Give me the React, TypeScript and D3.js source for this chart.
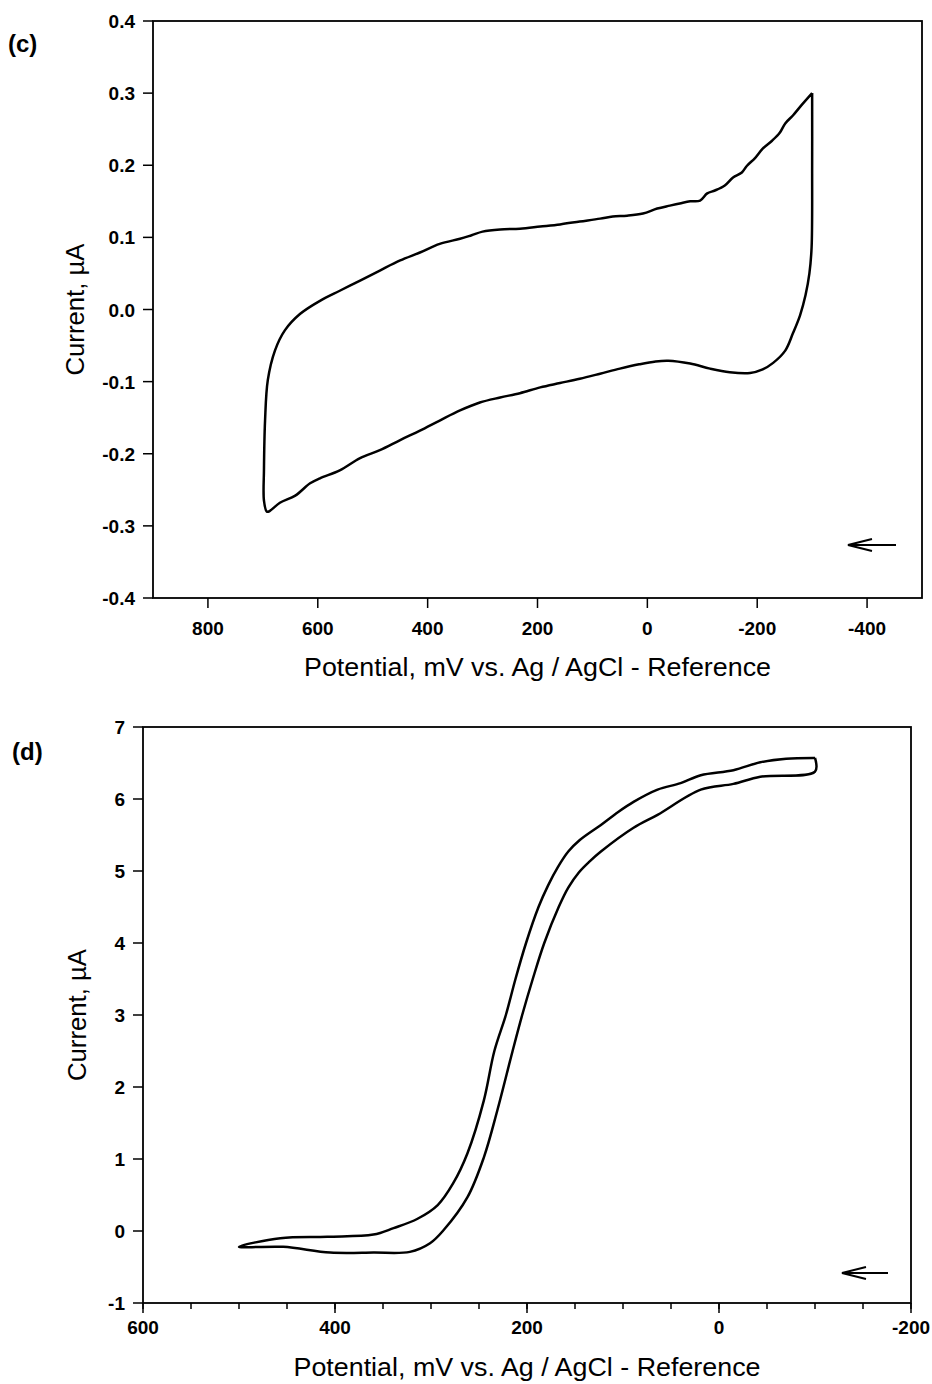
import React from 'react';
import * as d3 from 'd3';

// panel (c) - cyclic voltammogram, potential in mV, current in uA
const cPotential = [
  -300, -278, -265, -251, -241, -227, -210, -196, -181, -172, -156, -141, -123, -109, -96, -78, -59, -41, -18, 8, 37, 63,
  86, 123, 159, 195, 232, 268, 300, 320, 341, 378, 414, 450, 487, 523, 560, 596, 632, 660, 678, 691, 696, 698, 698, 693,
  689, 669, 641, 614, 596, 560, 523, 487, 450, 414, 378, 341, 305, 268, 232, 195, 159, 123, 86, 50, 15, -15, -38, -78,
  -114, -150, -187, -210, -229, -251, -265, -278, -288, -295, -299, -300, -300,
];
const cCurrent = [
  0.3, 0.281, 0.269, 0.258, 0.245, 0.234, 0.223, 0.21, 0.199, 0.19, 0.183, 0.172, 0.165, 0.161, 0.151, 0.15, 0.147, 0.144,
  0.14, 0.133, 0.13, 0.129, 0.126, 0.122, 0.118, 0.115, 0.112, 0.111, 0.108, 0.103, 0.098, 0.091, 0.079, 0.068, 0.054,
  0.04, 0.026, 0.012, -0.006, -0.029, -0.057, -0.098, -0.154, -0.223, -0.265, -0.28, -0.28, -0.268, -0.258, -0.241,
  -0.234, -0.223, -0.206, -0.195, -0.181, -0.168, -0.154, -0.14, -0.129, -0.122, -0.116, -0.108, -0.102, -0.096, -0.089,
  -0.082, -0.076, -0.072, -0.071, -0.075, -0.082, -0.087, -0.088, -0.083, -0.074, -0.057, -0.033, -0.008, 0.02, 0.05,
  0.086, 0.2, 0.3,
];

// panel (d)
const dPotential = [
  -100, -70, -43, -15, 19, 40, 64, 89, 105, 123, 145, 157, 168, 178, 188, 201, 212, 222, 234, 245, 262, 277, 293, 314,
  339, 360, 408, 457, 500, 454, 405, 360, 322, 301, 287, 262, 245, 231, 215, 205, 194, 182, 167, 157, 146, 135, 123, 89,
  64, 19, -15, -43, -100, -100,
];
const dCurrent = [
  6.57, 6.56, 6.51, 6.4, 6.33, 6.22, 6.13, 5.96, 5.82, 5.64, 5.43, 5.27, 5.05, 4.8, 4.5, 4.0, 3.5, 3.0, 2.5, 1.81, 1.08,
  0.66, 0.36, 0.17, 0.04, -0.05, -0.08, -0.1, -0.22, -0.22, -0.3, -0.3, -0.29, -0.17, 0.01, 0.47, 1.02, 1.67, 2.5, 3.0,
  3.5, 4.0, 4.5, 4.77, 4.98, 5.13, 5.27, 5.6, 5.78, 6.13, 6.21, 6.31, 6.38, 6.57,
];

const cXTicks = [800, 600, 400, 200, 0, -200, -400];
const cYTicks = [0.4, 0.3, 0.2, 0.1, 0.0, -0.1, -0.2, -0.3, -0.4];
const dXTicks = [600, 400, 200, 0, -200];
const dXMinor = d3.range(600, -201, -50);
const dYTicks = [7, 6, 5, 4, 3, 2, 1, 0, -1];

const xTitle = 'Potential, mV vs. Ag / AgCl - Reference';
const yTitle = 'Current, \u00b5A';

const FONT = '"Liberation Sans", Arial, sans-serif';

function Panel({ label, potential, current, xDomain, yDomain, xTicks, xMinor, yTicks, yFormat, box, arrowY }) {
  const x = d3.scaleLinear(xDomain, [box.left, box.right]);
  const y = d3.scaleLinear(yDomain, [box.bottom, box.top]);
  const pts = potential.map((v, i) => [v, current[i]]);
  const line = d3.line((d) => x(d[0]), (d) => y(d[1])).curve(d3.curveCatmullRom.alpha(0.5));
  const cx = (box.left + box.right) / 2;
  const cy = (box.top + box.bottom) / 2;

  return (
    <g>
      <text x={box.labelX} y={box.labelY} fontFamily={FONT} fontWeight="bold" fontSize={24}>
        {label}
      </text>
      <rect x={box.left} y={box.top} width={box.right - box.left} height={box.bottom - box.top}
        fill="none" stroke="#000" strokeWidth={1.8} />
      {(xMinor || []).map((t) => (
        <line key={'m' + t} x1={x(t)} x2={x(t)} y1={box.bottom} y2={box.bottom + 6} stroke="#000" strokeWidth={1.5} />
      ))}
      {xTicks.map((t) => (
        <g key={'x' + t}>
          <line x1={x(t)} x2={x(t)} y1={box.bottom} y2={box.bottom + 10} stroke="#000" strokeWidth={1.5} />
          <text x={x(t)} y={box.bottom + box.xLabDy} textAnchor="middle" fontFamily={FONT} fontWeight="bold" fontSize={19}>
            {t}
          </text>
        </g>
      ))}
      {yTicks.map((t) => (
        <g key={'y' + t}>
          <line x1={box.left - 10} x2={box.left} y1={y(t)} y2={y(t)} stroke="#000" strokeWidth={1.5} />
          <text x={box.left - 18} y={y(t) + 7} textAnchor="end" fontFamily={FONT} fontWeight="bold" fontSize={19}>
            {yFormat(t)}
          </text>
        </g>
      ))}
      <text x={cx} y={box.bottom + box.titleDy} textAnchor="middle" fontFamily={FONT} fontSize={26}
        textLength={467} lengthAdjust="spacingAndGlyphs">
        {xTitle}
      </text>
      <text transform={`translate(${box.titleX},${cy}) rotate(-90)`} textAnchor="middle" fontFamily={FONT}
        fontSize={26} textLength={132} lengthAdjust="spacingAndGlyphs">
        {yTitle}
      </text>
      <path d={line(pts)} fill="none" stroke="#000" strokeWidth={2.5} strokeLinejoin="round" />
      <g stroke="#000" strokeWidth={2} fill="none">
        <line x1={box.arrowX0} x2={box.arrowX1} y1={arrowY} y2={arrowY} />
        <path d={`M${box.arrowX1 + 24},${arrowY - 6}L${box.arrowX1},${arrowY}L${box.arrowX1 + 24},${arrowY + 6}`} />
      </g>
    </g>
  );
}

export default function App() {
  return (
    <svg width={932} height={1384} style={{ position: 'absolute', left: 0, top: 0, background: '#fff' }}>
      <rect width={932} height={1384} fill="#fff" />
      <Panel
        label="(c)"
        potential={cPotential}
        current={cCurrent}
        xDomain={[900, -500]}
        yDomain={[-0.4, 0.4]}
        xTicks={cXTicks}
        yTicks={cYTicks}
        yFormat={(t) => t.toFixed(1)}
        box={{ left: 153, right: 922, top: 21, bottom: 598, labelX: 8, labelY: 52, titleX: 84, arrowX0: 896, arrowX1: 848, xLabDy: 37, titleDy: 78 }}
        arrowY={545}
      />
      <Panel
        label="(d)"
        potential={dPotential}
        current={dCurrent}
        xDomain={[600, -200]}
        yDomain={[-1, 7]}
        xTicks={dXTicks}
        xMinor={dXMinor}
        yTicks={dYTicks}
        yFormat={(t) => String(t)}
        box={{ left: 143, right: 911, top: 727, bottom: 1303, labelX: 12, labelY: 760, titleX: 86, arrowX0: 888, arrowX1: 842, xLabDy: 31, titleDy: 73 }}
        arrowY={1273}
      />
    </svg>
  );
}
